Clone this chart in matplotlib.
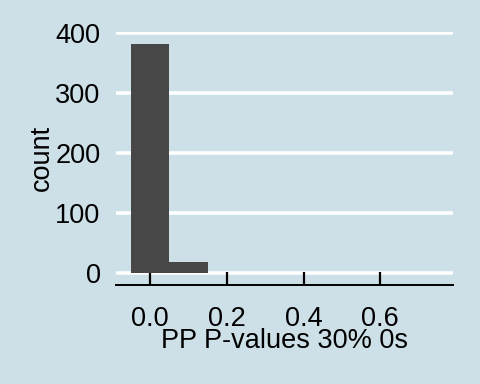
import numpy as np
import matplotlib
matplotlib.use("Agg")
import matplotlib.pyplot as plt

# histogram bins (binwidth 0.1, centred on 0.0, 0.1, ...)
bin_centers = [0.0, 0.1, 0.2, 0.3, 0.4, 0.5, 0.6, 0.7]
counts = [383, 18, 0, 0, 0, 0, 0, 0]
x_ticks = [0.0, 0.2, 0.4, 0.6]
y_ticks = [0, 100, 200, 300, 400]

BG = "#cddfe7"
BAR = "#474747"
FS = 19.5

plt.rcParams['font.family'] = ['Liberation Sans', 'DejaVu Sans']

fig = plt.figure(figsize=(4.8, 3.84), dpi=100, facecolor=BG)
W, H = 480, 384
left, right, top, bottom = 115.8, 453.1, 32.1, 284.5
ax = fig.add_axes([left / W, 1 - bottom / H, (right - left) / W, (bottom - top) / H])
ax.set_facecolor(BG)

ax.bar(bin_centers, counts, width=0.1, color=BAR, zorder=3)

lo, hi = -0.05, 0.75
r = hi - lo
ax.set_xlim(lo - 0.05 * r, hi + 0.05 * r)
ymax = max(counts)
ax.set_ylim(-0.05 * ymax, ymax * 1.05)

ax.set_xticks(x_ticks)
ax.set_xticklabels(["%.1f" % v for v in x_ticks])
ax.set_yticks(y_ticks)

for y in y_ticks:
    ax.axhline(y, color="white", linewidth=2.6, zorder=1)

for s in ["top", "right", "left"]:
    ax.spines[s].set_visible(False)
ax.spines["bottom"].set_color("black")
ax.spines["bottom"].set_linewidth(1.4)
ax.spines["bottom"].set_zorder(4)

ax.tick_params(axis="x", direction="in", length=9.4, width=1.6, color="black",
               labelsize=FS, pad=15.8)
ax.tick_params(axis="y", length=0, labelsize=FS, pad=11)

ax.set_xlabel("PP P-values 30% 0s", fontsize=FS, va="baseline")
ax.xaxis.set_label_coords(0.5, (bottom - 348) / (bottom - top))
ax.set_ylabel("count", fontsize=FS, va="center")
ax.yaxis.set_label_coords((42 - left) / (right - left), (bottom - 158) / (bottom - top))

fig.savefig("out.png", dpi=100, facecolor=BG)
